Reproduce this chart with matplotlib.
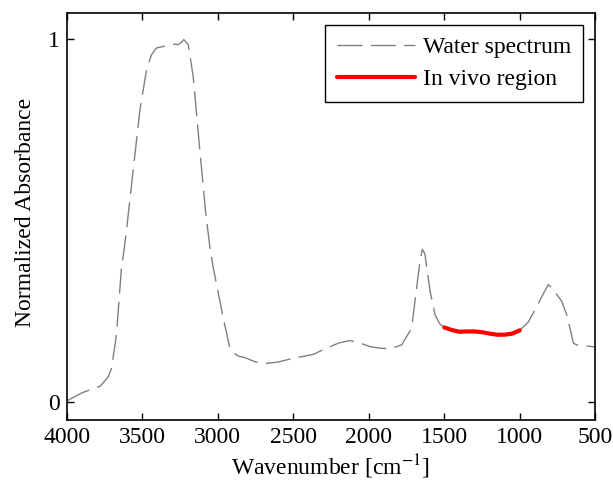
import matplotlib
matplotlib.use("Agg")
import matplotlib.pyplot as plt

plt.rcParams['font.family'] = ['Liberation Serif', 'DejaVu Serif']
plt.rcParams['mathtext.fontset'] = 'stix'

# water absorbance spectrum
wavenumber = [4000, 3900, 3777, 3726, 3704, 3671, 3638, 3620, 3600, 3583, 3516, 3472,
              3440, 3406, 3351, 3300, 3284, 3262, 3240, 3225, 3196, 3163, 3119, 3080,
              3052, 3030, 2964, 2920, 2880, 2854, 2820, 2750, 2677, 2600, 2500, 2368,
              2279, 2200, 2125, 2058, 1990, 1926, 1860, 1782, 1716, 1683, 1660, 1645,
              1628, 1594, 1561, 1530, 1500, 1450, 1400, 1350, 1300, 1250, 1200, 1150,
              1100, 1050, 1000, 943, 890, 841, 810, 780, 722, 689, 660, 645, 623, 512, 500]
absorbance = [0.003, 0.025, 0.044, 0.069, 0.092, 0.185, 0.37, 0.42, 0.49, 0.554, 0.803, 0.914,
              0.955, 0.974, 0.979, 0.982, 0.985, 0.983, 0.99, 0.997, 0.983, 0.896, 0.693, 0.52,
              0.425, 0.369, 0.231, 0.148, 0.13, 0.125, 0.122, 0.11, 0.106, 0.11, 0.12, 0.131,
              0.148, 0.162, 0.169, 0.162, 0.152, 0.148, 0.146, 0.157, 0.203, 0.314, 0.39, 0.42,
              0.407, 0.305, 0.24, 0.215, 0.205, 0.198, 0.193, 0.194, 0.194, 0.192, 0.188, 0.185,
              0.185, 0.188, 0.197, 0.22, 0.26, 0.30, 0.323, 0.31, 0.277, 0.24, 0.19, 0.162,
              0.157, 0.152, 0.151]

# in vivo region (1500 - 1000 cm^-1)
vivo_wn = [1500, 1450, 1400, 1350, 1300, 1250, 1200, 1150, 1100, 1050, 1000]
vivo_abs = [0.205, 0.198, 0.193, 0.194, 0.194, 0.192, 0.188, 0.185, 0.185, 0.188, 0.197]

xticks = [4000, 3500, 3000, 2500, 2000, 1500, 1000, 500]
yticks = [0, 1]

fig = plt.figure(figsize=(6.13, 4.84), dpi=100)
ax = fig.add_axes([0.109, 0.132, 0.862, 0.841])

ax.plot(wavenumber, absorbance, color=(0.5, 0.5, 0.5), lw=1.0,
        dashes=(18, 6), label='Water spectrum')
ax.plot(vivo_wn, vivo_abs, color='red', lw=3, solid_capstyle='round',
        label='In vivo region')

ax.set_xlim(4000, 500)
ax.set_ylim(-0.05, 1.07)
ax.set_xticks(xticks)
ax.set_yticks(yticks)
ax.tick_params(direction='in', top=True, right=True, length=5, width=1,
               labelsize=17, pad=5)
for s in ax.spines.values():
    s.set_linewidth(1.2)

ax.set_xlabel('Wavenumber [cm$^{-1}$]', fontsize=17, labelpad=3)
ax.set_ylabel('Normalized Absorbance', fontsize=17)
ax.yaxis.set_label_coords(-0.058, 0.51)

leg = ax.legend(loc='upper right', fontsize=17, fancybox=False, framealpha=1,
                edgecolor='black', handlelength=3.3, borderpad=0.5,
                labelspacing=0.45, handletextpad=0.35, borderaxespad=0.5)
leg.get_frame().set_linewidth(1.0)

fig.savefig('out.png', dpi=100)
